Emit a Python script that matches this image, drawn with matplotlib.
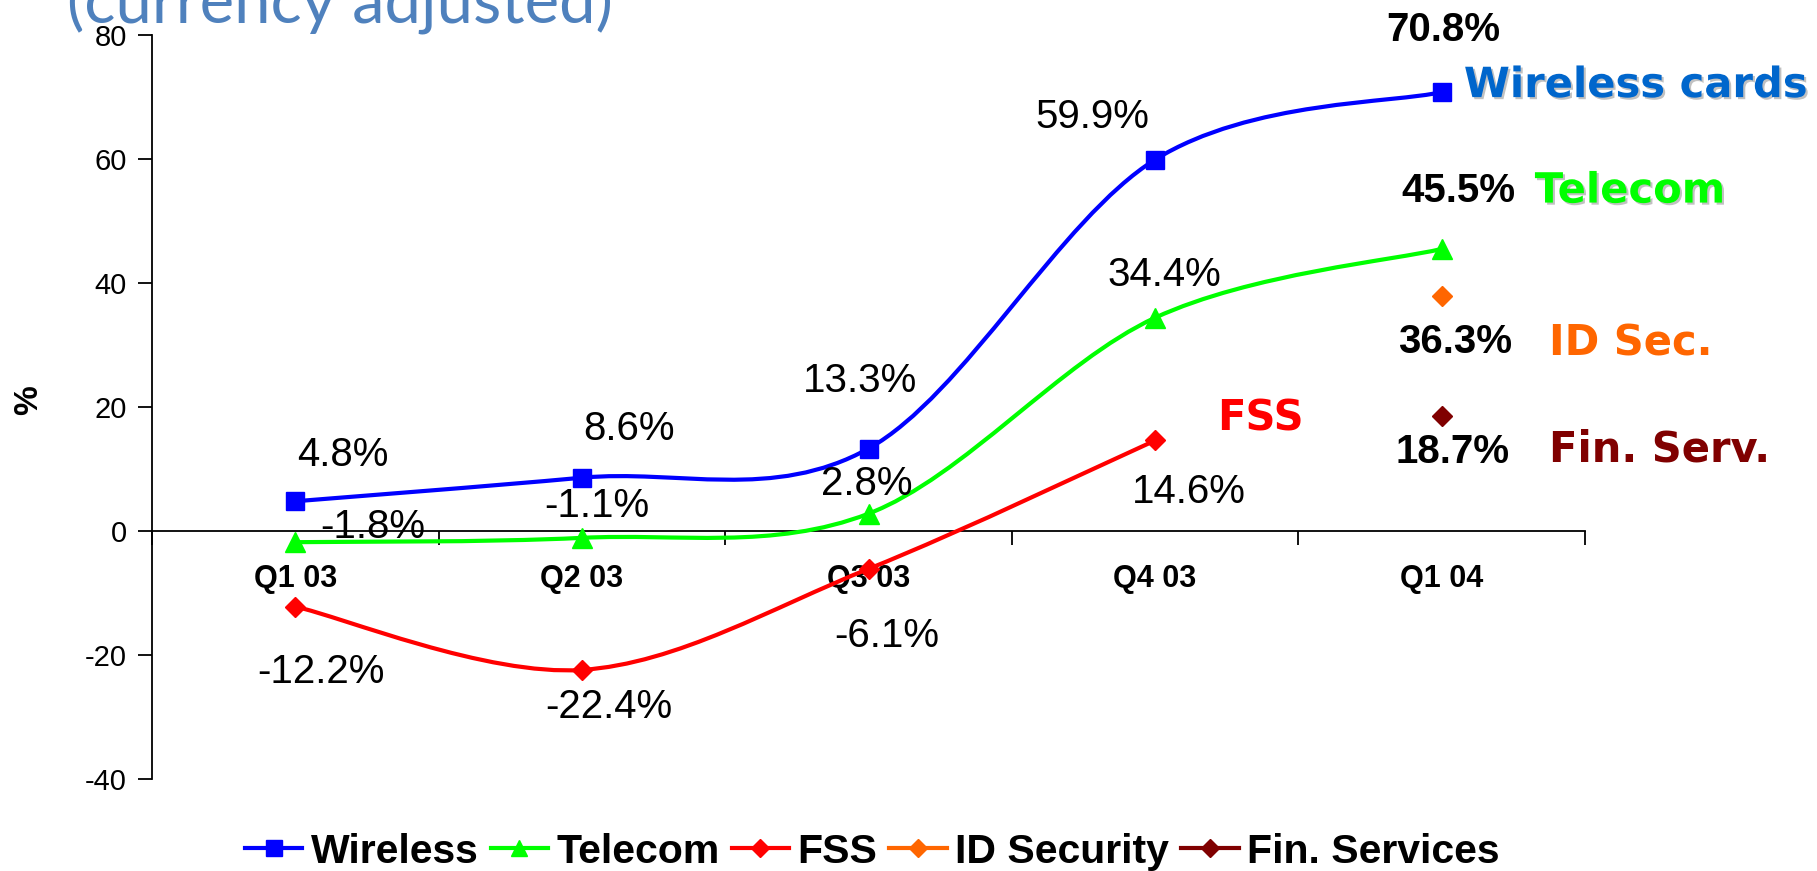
import matplotlib
matplotlib.use("Agg")
import matplotlib.pyplot as plt
import matplotlib.patheffects as pe
from matplotlib.path import Path
from matplotlib.patches import PathPatch
from matplotlib.lines import Line2D

# Dữ liệu biểu đồ
quarters = ["Q1 03", "Q2 03", "Q3 03", "Q4 03", "Q1 04"]
wireless = [4.8, 8.6, 13.3, 59.9, 70.8]
telecom = [-1.8, -1.1, 2.8, 34.4, 45.5]
fss = [-12.2, -22.4, -6.1, 14.6]
id_security = [37.9]
fin_services = [18.5]

wireless_labels = ["4.8%", "8.6%", "13.3%", "59.9%", "70.8%"]
telecom_labels = ["-1.8%", "-1.1%", "2.8%", "34.4%", "45.5%"]
fss_labels = ["-12.2%", "-22.4%", "-6.1%", "14.6%"]
id_label = "36.3%"
fin_label = "18.7%"

BLUE = "#0000FF"
GREEN = "#00FF00"
RED = "#FF0000"
ORANGE = "#FF6600"
MAROON = "#800000"

plt.rcParams["font.family"] = ["Liberation Sans", "DejaVu Sans"]
plt.rcParams["axes.unicode_minus"] = False


# Đường cong mượt kiểu Excel (Bezier qua các điểm)
def smooth_path(xs, ys):
    pts = list(zip(xs, ys))
    n = len(pts)
    verts = [pts[0]]
    codes = [Path.MOVETO]
    for i in range(n - 1):
        p0 = pts[max(i - 1, 0)]
        p1 = pts[i]
        p2 = pts[i + 1]
        p3 = pts[min(i + 2, n - 1)]
        c1 = (p1[0] + (p2[0] - p0[0]) / 6, p1[1] + (p2[1] - p0[1]) / 6)
        c2 = (p2[0] - (p3[0] - p1[0]) / 6, p2[1] - (p3[1] - p1[1]) / 6)
        verts += [c1, c2, p2]
        codes += [Path.CURVE4] * 3
    return Path(verts, codes)


fig = plt.figure(figsize=(18.17, 8.71), dpi=100)
ax = fig.add_axes([0.0837, 0.1056, 0.7886, 0.8542])

series = [
    (wireless, BLUE, "s", 13),
    (telecom, GREEN, "^", 15),
    (fss, RED, "D", 10),
    (id_security, ORANGE, "D", 10),
    (fin_services, MAROON, "D", 10),
]
x_start = [0, 0, 0, 4, 4]

for (vals, col, mk, ms), x0 in zip(series, x_start):
    xs = list(range(x0, x0 + len(vals)))
    if len(vals) > 1:
        ax.add_patch(PathPatch(smooth_path(xs, vals), facecolor="none",
                               edgecolor=col, lw=3, zorder=3))
    ax.plot(xs, vals, linestyle="none", marker=mk, markersize=ms,
            color=col, zorder=4, clip_on=False)


# Nhãn giá trị
def put(txt, i, v, dx, dy, bold=False, ha="center", fs=29, **kw):
    ax.annotate(txt, (i, v), xytext=(dx, dy), textcoords="offset points",
                ha=ha, va="center", fontsize=fs,
                fontweight="bold" if bold else "normal", annotation_clip=False, **kw)


w_off = [(34, 33), (34, 35), (-6, 49), (-45, 31), (1, 45)]
t_off = [(56, 11), (11, 23), (-1, 21), (7, 31), (12, 42)]
f_off = [(18.5, -47), (19, -27), (13, -48), (24, -37)]
for i, (v, lab, (dx, dy)) in enumerate(zip(wireless, wireless_labels, w_off)):
    put(lab, i, v, dx, dy, bold=(i == 4))
for i, (v, lab, (dx, dy)) in enumerate(zip(telecom, telecom_labels, t_off)):
    put(lab, i, v, dx, dy, bold=(i == 4))
for i, (v, lab, (dx, dy)) in enumerate(zip(fss, fss_labels, f_off)):
    put(lab, i, v, dx, dy)
put(id_label, 4, id_security[0], 9.5, -33, bold=True)
put(fin_label, 4, fin_services[0], 8, -26, bold=True)

# Tên nhóm bên phải
shadow = [pe.SimplePatchShadow(offset=(1.5, -1.5), shadow_rgbFace="#999999", alpha=0.6), pe.Normal()]
name_kw = dict(family="DejaVu Sans", bold=True, fs=30)
put("Wireless cards", 4, wireless[-1], 16, 5, ha="left", color="#0066CC",
    path_effects=shadow, **name_kw)
put("Telecom", 4, telecom[-1], 67, 42, ha="left", color=GREEN,
    path_effects=shadow, **name_kw)
put("ID Sec.", 4, id_security[0], 77, -34, ha="left", color=ORANGE, **name_kw)
put("Fin. Serv.", 4, fin_services[0], 77, -24, ha="left", color=MAROON, **name_kw)
put("FSS", 3, fss[-1], 76, 15.5, color=RED, **name_kw)

# Trục
ax.set_xlim(-0.5, 4.5)
ax.set_ylim(-40, 80)
ax.set_yticks(range(-40, 81, 20))
ax.tick_params(axis="y", labelsize=21, length=10, width=1.3, pad=8)
ax.spines["top"].set_visible(False)
ax.spines["right"].set_visible(False)
ax.spines["bottom"].set_position(("data", 0))
ax.spines["left"].set_linewidth(1.3)
ax.spines["bottom"].set_linewidth(1.3)
ax.set_xticks([-0.5, 0.5, 1.5, 2.5, 3.5, 4.5])
ax.set_xticklabels([])
ax.tick_params(axis="x", which="major", direction="out", length=10, width=1.3)
ax.set_xticks(range(len(quarters)), minor=True)
ax.set_xticklabels(quarters, minor=True, fontsize=22, fontweight="bold")
ax.tick_params(axis="x", which="minor", length=0, pad=24)

fig.text(29 / 1817, 1 - 400 / 871, "%", rotation=90, fontsize=24,
         fontweight="bold", ha="center", va="center")

fig.text(0.037, 1 - 22 / 871, "(currency adjusted)", family="Lato",
         fontsize=47, color="#4F81BD", ha="left", va="baseline")

# Chú thích
handles = [
    Line2D([], [], color=BLUE, lw=3, marker="s", markersize=11),
    Line2D([], [], color=GREEN, lw=3, marker="^", markersize=12),
    Line2D([], [], color=RED, lw=3, marker="D", markersize=9),
    Line2D([], [], color=ORANGE, lw=3, marker="D", markersize=9),
    Line2D([], [], color=MAROON, lw=3, marker="D", markersize=9),
]
names = ["Wireless", "Telecom", "FSS", "ID Security", "Fin. Services"]
fig.legend(handles, names, loc="center", bbox_to_anchor=(0.48, 0.022), ncol=5,
           frameon=False, prop={"family": "Liberation Sans", "weight": "bold", "size": 29.5},
           handlelength=1.4, handletextpad=0.2, columnspacing=0.3, borderaxespad=0)

fig.savefig("out.png", dpi=100)
